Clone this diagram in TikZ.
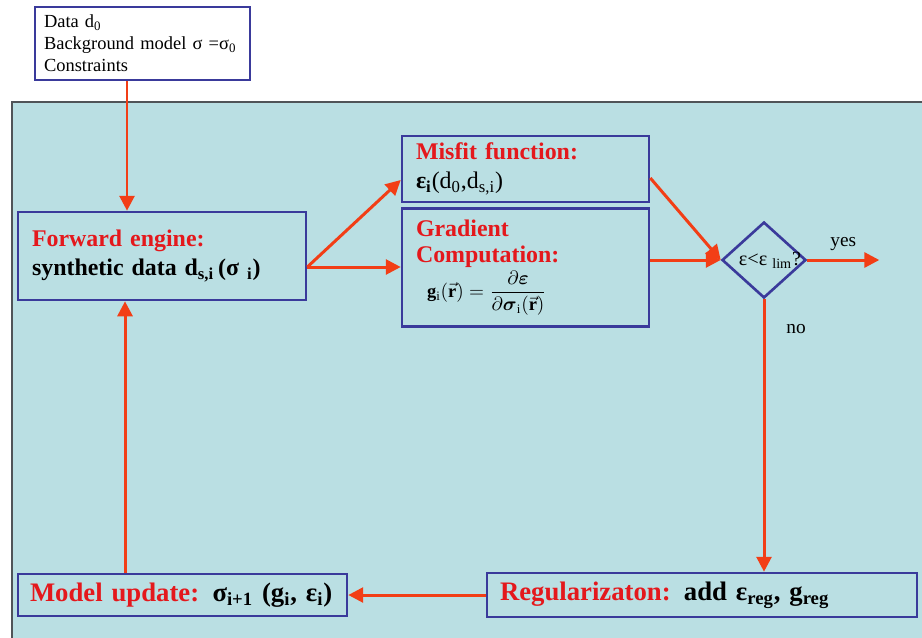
\documentclass[tikz,border=0pt]{standalone}
\usepackage{amsmath,amssymb}
\usepackage{fontspec}
\setmainfont{Liberation Serif}
\usepackage{xcolor}
\usepackage{tikz}
\usetikzlibrary{arrows.meta,positioning,shapes.geometric,calc}
\definecolor{fundo}{RGB}{186,223,227}
\definecolor{azul}{RGB}{58,58,155}
\definecolor{laranja}{RGB}{242,62,22}
\definecolor{vermelho}{RGB}{228,24,28}
\definecolor{borda}{RGB}{80,84,88}
\newcommand{\titulo}[1]{\textcolor{vermelho}{#1}}
\tikzset{
    caixa/.style={
        rectangle,
        draw=azul,
        line width=1.5pt,
        fill=fundo,
        align=left,
        inner ysep=2pt
    },
    etapa/.style={caixa, font=\fontsize{13.6}{16.5}\selectfont\bfseries},
    etapaBaixo/.style={caixa, font=\fontsize{15.2}{18}\selectfont\bfseries},
    decisao/.style={
        diamond,
        draw=azul,
        line width=1.5pt,
        inner sep=0pt,
        minimum width=1.68cm,
        minimum height=1.52cm
    },
    fluxo/.style={-{Triangle[length=8.5pt,width=8.5pt]}, line width=1.7pt, draw=laranja},
    rotulo/.style={font=\fontsize{11}{13}\selectfont}
}

\begin{document}
\begin{tikzpicture}[x=0.02cm, y=-0.02cm]
    \useasboundingbox (0,0) rectangle (922,637);
    % painel de fundo
    \draw[borda, line width=1pt, fill=fundo] (12,102) rectangle (940,660);

    \node[caixa, fill=white, inner xsep=0.18cm, text width=3.94cm, minimum height=1.46cm,
        font=\fontsize{10.5}{12.6}\selectfont] (dados) at (142.5,43.5)
        {Data d\textsubscript{0}\\Background model σ =σ\textsubscript{0}\\Constraints};
    \node[etapa, inner xsep=0.28cm, text width=5.2cm, minimum height=1.76cm] (direto) at (162,256)
        {\titulo{Forward engine:}\\synthetic data d\textsubscript{s,i}\,(σ \textsubscript{i})};
    \node[etapa, inner xsep=0.28cm, text width=4.38cm, minimum height=1.32cm] (misfit) at (525.5,169)
        {\titulo{Misfit function:}\\ε\textsubscript{i}\mdseries(d\textsubscript{0},d\textsubscript{s,i})};
    \node[etapa, inner xsep=0.28cm, text width=4.38cm, minimum height=2.36cm,
        below=0.08cm of misfit, font=\fontsize{13.6}{14.8}\selectfont\bfseries] (gradiente)
        {\titulo{Gradient}\\\titulo{Computation:}\\[1pt]
         \hspace*{0.22cm}\fontsize{10.5}{12}\selectfont
         $\mathbf{g}_{\mathrm{i}}(\vec{\mathbf{r}})=\dfrac{\partial\boldsymbol{\varepsilon}}{\partial\boldsymbol{\sigma}_{\mathrm{i}}(\vec{\mathbf{r}})}$};
    \node[decisao] (teste) at (764,260) {};
    \node[font=\fontsize{11.5}{13}\selectfont, inner sep=0pt] (cond) at ([xshift=0.12cm]teste.center)
        {ε<ε \textsubscript{lim}?};
    \coordinate[right=1.44cm of teste.east] (saida);
    \node[etapaBaixo, inner xsep=0.26cm, text width=8.08cm, minimum height=0.88cm] (regular) at (702,595)
        {\titulo{Regularizaton:} add ε\textsubscript{reg}, g\textsubscript{reg}};
    \node[etapaBaixo, inner xsep=0.24cm, text width=6.1cm, minimum height=0.84cm] (modelo) at (182.5,595)
        {\titulo{Model update:} σ\textsubscript{i+1} (g\textsubscript{i}, ε\textsubscript{i})};

    \draw[fluxo] ([xshift=-0.31cm]dados.south) -- ([xshift=-0.31cm]dados.south |- direto.north);
    \draw[fluxo] ([yshift=-0.22cm]direto.east) -- ([yshift=-0.22cm]misfit.west);
    \draw[fluxo] ([yshift=-0.22cm]direto.east) -- ([yshift=-0.22cm]direto.east -| gradiente.west);
    \draw[fluxo] ([yshift=-0.18cm]misfit.east) -- (teste.west);
    \draw[fluxo] (teste.west -| gradiente.east) -- (teste.west);
    \draw[fluxo] (teste.east) -- node[rotulo, above=1pt] {yes} (saida);
    \draw[fluxo] (teste.south) -- node[rotulo, pos=0.11, right=0.3cm] {no} (teste.south |- regular.north);
    \draw[fluxo] (regular.west) -- (modelo.east);
    \draw[fluxo] ([xshift=-1.15cm]modelo.north) -- ([xshift=-1.15cm]modelo.north |- direto.south);
\end{tikzpicture}
\end{document}
